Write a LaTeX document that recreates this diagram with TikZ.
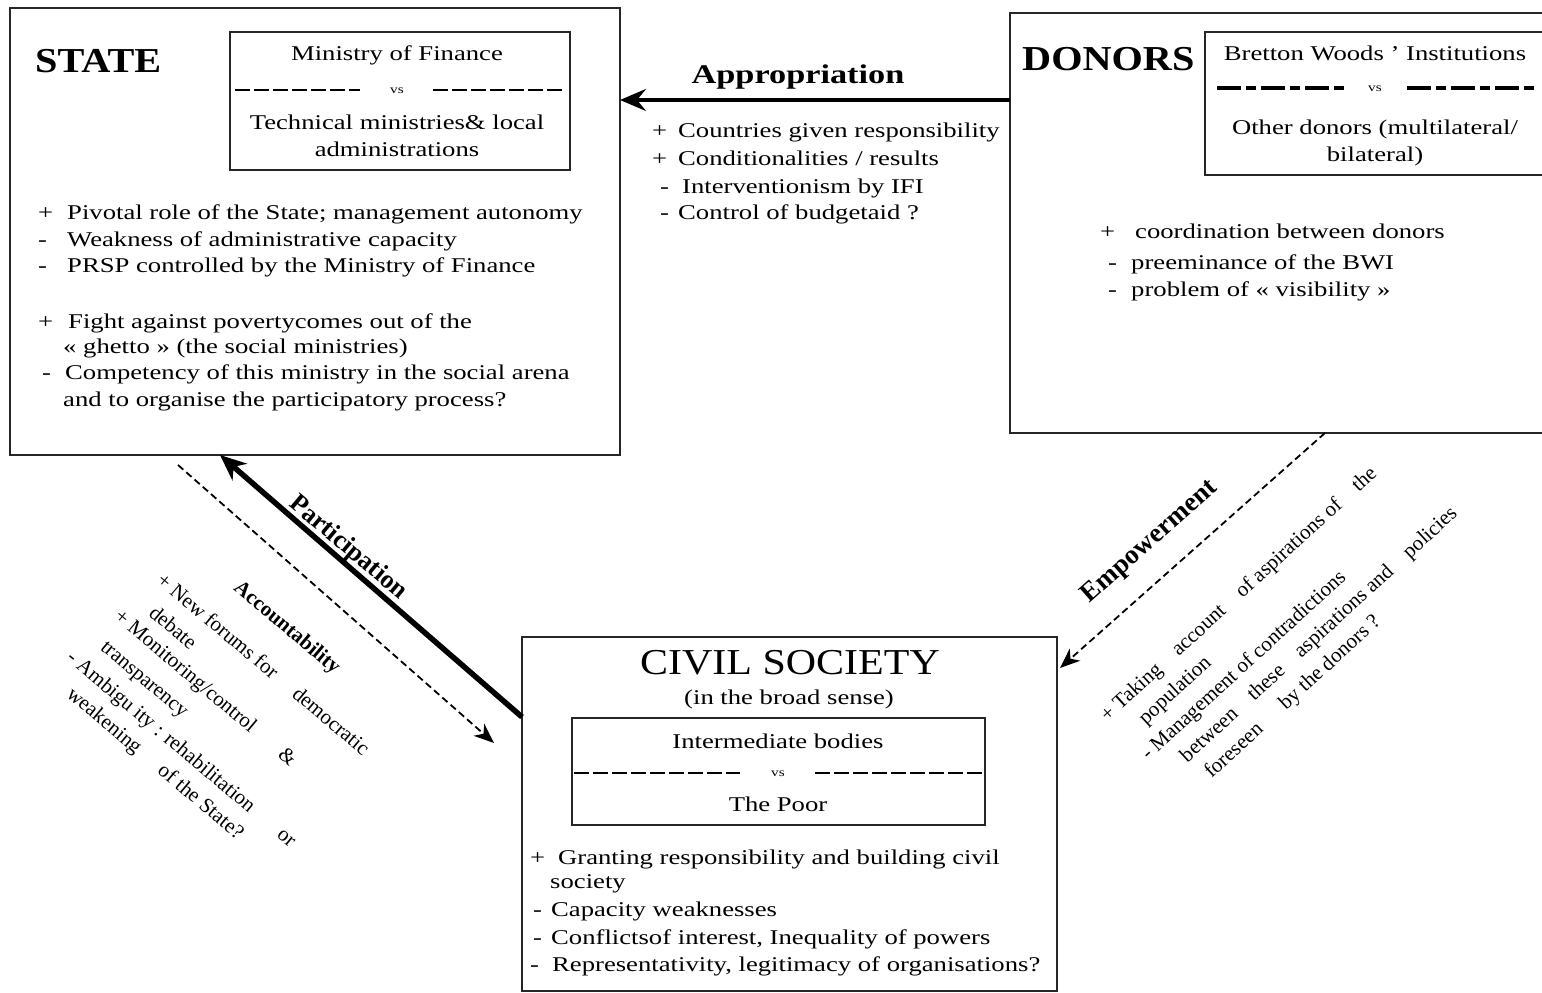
\documentclass[tikz,border=0pt]{standalone}
\usepackage{fontspec}
\setmainfont{Liberation Serif}[FakeStretch=1.27]
\newfontfamily\rotfont{Liberation Serif}
\newfontfamily\headfont{Liberation Serif}[FakeStretch=1.15]
\usetikzlibrary{arrows.meta,calc}
\newcommand{\mysign}[2]{\makebox[#1pt][l]{#2}}
\tikzset{
  box/.style={draw=black!85, line width=1.8pt, inner sep=0pt, outer sep=0pt, anchor=north west},
  lt/.style={anchor=base west, inner sep=0pt, font=\fontsize{21}{26}\selectfont},
  ct/.style={anchor=base, inner sep=0pt, font=\fontsize{21}{26}\selectfont},
  vs/.style={anchor=base, inner sep=0pt, font=\fontsize{12}{13}\selectfont},
  head/.style={anchor=base west, inner sep=0pt, font=\headfont\bfseries\fontsize{35}{38}\selectfont},
  lbl/.style={inner sep=0pt, font=\rotfont\bfseries\fontsize{26}{30}\selectfont},
  rt/.style={anchor=base west, inner sep=0pt, font=\rotfont\fontsize{21}{26}\selectfont},
  sepline/.style={line width=1.4pt, dash pattern=on 15pt off 4pt},
  thicksep/.style={line width=3.5pt, dash pattern=on 24pt off 5pt on 10pt off 5pt},
  solidarrow/.style={line width=3.2pt, -{Stealth[length=26pt,width=22pt,inset=9pt]}},
  partarrow/.style={line width=5.5pt, -{Stealth[length=26pt,width=22pt,inset=8pt]}},
  dasharrow/.style={line width=1.8pt, dash pattern=on 7pt off 4pt, -{Stealth[length=20pt,width=16pt,inset=6pt]}},
}
\begin{document}
\begin{tikzpicture}[x=1pt,y=1pt]
\useasboundingbox (0,0) rectangle (1542,993);
\clip (0,0) rectangle (1542,993);
\fill[white] (0,0) rectangle (1542,993);

% boxes
\node[box, minimum width=610pt, minimum height=447pt] (state) at (10,985) {};
\node[box, minimum width=340pt, minimum height=138pt] (statein) at (230,961) {};
\node[box, minimum width=545pt, minimum height=420pt] (donors) at (1010,980) {};
\node[box, minimum width=345pt, minimum height=143pt] (donin) at (1205,961) {};
\node[box, minimum width=535pt, minimum height=354pt] (cs) at (522,356) {};
\node[box, minimum width=413pt, minimum height=107pt] (csin) at (572,275) {};

% headings
\node[head] (stateh) at (35,920) {STATE};
\node[head] (donh) at (1022,922) {DONORS};
\node[anchor=base, inner sep=0pt, font=\headfont\fontsize{36.5}{40}\selectfont] (csh) at (790,318) {CIVIL SOCIETY};
\node[ct] (csh2) at (789,288) {(in the broad sense)};

% state inner
\node[ct] (mof) at (397,932) {Ministry of Finance};
\draw[sepline] (235,903) -- (360,903);
\draw[sepline] (433,903) -- (565,903);
\node[vs] (vs1) at (397,899) {vs};
\node[ct] (tm1) at (397,863) {Technical ministries\& local};
\node[ct] (tm2) at (397,836) {administrations};

% donors inner
\node[ct] (bw) at (1375,932) {Bretton Woods ’ Institutions};
\draw[thicksep] (1217,905) -- (1345,905);
\draw[thicksep] (1407,905) -- (1537,905);
\node[vs] (vs2) at (1375,901) {vs};
\node[ct] (od1) at (1375,858) {Other donors (multilateral/};
\node[ct] (od2) at (1375,831) {bilateral)};

% cs inner
\node[ct] (ib) at (778,244) {Intermediate bodies};
\draw[sepline] (574,220) -- (740,220);
\draw[sepline] (815,220) -- (984,220);
\node[vs] (vs3) at (778,216) {vs};
\node[ct] (tp) at (778,181) {The Poor};

% state list
\node[lt] (s1) at (38,773) {\mysign{29}{+}Pivotal role of the State; management autonomy};
\node[lt] (s2) at (38,746) {\mysign{29}{-}Weakness of administrative capacity};
\node[lt] (s3) at (38,720) {\mysign{29}{-}PRSP controlled by the Ministry of Finance};
\node[lt] (s4) at (38,664) {\mysign{30}{+}Fight against povertycomes out of the};
\node[lt] (s5) at (63,639) {« ghetto » (the social ministries)};
\node[lt] (s6) at (42,613) {\mysign{23}{-}Competency of this ministry in the social arena};
\node[lt] (s7) at (63,586) {and to organise the participatory process?};

% appropriation
\node[anchor=base, inner sep=0pt, font=\bfseries\fontsize{27}{30}\selectfont] (apl) at (798,909) {Appropriation};
\node[lt] (p1) at (652,855) {\mysign{26}{+}Countries given responsibility};
\node[lt] (p2) at (652,827) {\mysign{26}{+}Conditionalities / results};
\node[lt] (p3) at (660,799) {\mysign{22}{-}Interventionism by IFI};
\node[lt] (p4) at (660,773) {\mysign{18}{-}Control of budgetaid ?};

% donors list
\node[lt] (d1) at (1100,754) {\mysign{35}{+}coordination between donors};
\node[lt] (d2) at (1108,723) {\mysign{23}{-}preeminance of the BWI};
\node[lt] (d3) at (1108,696) {\mysign{23}{-}problem of « visibility »};

% cs list
\node[lt] (c1) at (530,128) {\mysign{28}{+}Granting responsibility and building civil};
\node[lt] (c2) at (550,104) {society};
\node[lt] (c3) at (533,76) {\mysign{18}{-}Capacity weaknesses};
\node[lt] (c4) at (533,48) {\mysign{18}{-}Conflictsof interest, Inequality of powers};
\node[lt] (c5) at (530,21) {\mysign{22}{-}Representativity, legitimacy of organisations?};

% connectors
\coordinate (apy) at (0,893);
\draw[solidarrow] (donors.west |- apy) -- (state.east |- apy);
\draw[partarrow] ($(cs.north west)+(0,-80)$) -- ($(state.south west)+(210,0)$);
\coordinate (acS) at (178,528);
\coordinate (acE) at (494,250);
\draw[dasharrow] (acS) -- (acE);
\coordinate (emE) at (1060,325);
\draw[dasharrow] ($(donors.south west)+(315,0)$) -- (emE);

% connector labels
\node[lbl, rotate=-40] (partl) at (348,445) {Participation};
\node[lbl, rotate=41.5, font=\rotfont\bfseries\fontsize{27}{30}\selectfont] (empl) at (1150,451) {Empowerment};

% rotated text, left
\begin{scope}[shift={(160,416)}, rotate=-40, transform shape]
\node[rt, font=\rotfont\bfseries\fontsize{21}{26}\selectfont, anchor=base] (acc) at (130,37) {Accountability};
\node[rt] (a1) at (0,-7) {\makebox[270pt][l]{+ New forums for\hfill democratic}};
\node[rt] (a2) at (15,-37) {debate};
\node[rt] (a3) at (-9,-62) {\makebox[230pt][l]{+ Monitoring/control\hfill\&}};
\node[rt] (a4) at (0,-94) {transparency};
\node[rt] (a5) at (-19,-124) {\makebox[292pt][l]{- Ambigu ity : rehabilitation\hfill or}};
\node[rt] (a6) at (4,-152) {\makebox[224pt][l]{weakening\hfill of the State?}};
\end{scope}

% rotated text, right
\begin{scope}[shift={(1103,276)}, rotate=42.5, transform shape]
\node[rt] (e1) at (0,-7) {\makebox[366pt][l]{+ Taking\hfill account\hfill of aspirations of\hfill the}};
\node[rt] (e2) at (26,-35) {population};
\node[rt] (e3) at (4,-63) {- Management of contradictions};
\node[rt] (e4) at (31,-91) {\makebox[367pt][l]{between\hfill these\hfill aspirations and\hfill policies}};
\node[rt] (e5) at (38,-119) {\makebox[230pt][l]{foreseen\hfill by the donors ?}};
\end{scope}
\end{tikzpicture}
\end{document}
